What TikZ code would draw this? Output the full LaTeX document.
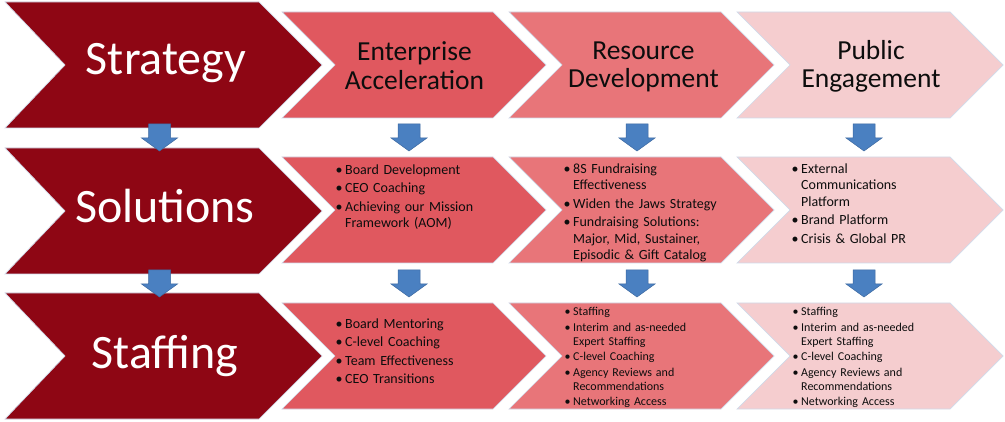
\documentclass[tikz,border=0pt]{standalone}
\usepackage{fontspec}
\setmainfont{Carlito}
\definecolor{dred}{RGB}{142,6,20}
\definecolor{cEA}{RGB}{224,88,95}
\definecolor{cRD}{RGB}{232,117,121}
\definecolor{cPE}{RGB}{245,205,207}
\definecolor{edge}{RGB}{208,218,234}
\definecolor{abl}{RGB}{74,128,193}
\definecolor{abd}{RGB}{60,104,160}
\newcommand\itm{\leavevmode\llap{\textbullet\hspace{2.5pt}}}
\newcommand\chevpath[6]{% x, top, w, h, notch depth, color
  \fill[#6, draw=edge, line width=0.7pt]
    (#1,#2) -- ({#1+#3},#2) -- ({#1+#3+#4/2},{#2+#4/2}) -- ({#1+#3},{#2+#4})
    -- (#1,{#2+#4}) -- ({#1+#5},{#2+#4/2}) -- cycle;}
\newcommand\dnarrow[2]{% center x, top y
  \fill[abl, draw=abd, line width=0.5pt]
    ({#1-11},#2) -- ({#1+11},#2) -- ({#1+11},{#2+14}) -- ({#1+18},{#2+14})
    -- (#1,{#2+27}) -- ({#1-18},{#2+14}) -- ({#1-11},{#2+14}) -- cycle;}
\tikzset{
  big/.style={font=\fontsize{48}{50}\selectfont, text=white, anchor=base, inner sep=0pt},
  hdr/.style={font=\fontsize{27.5}{28.5}\selectfont, text=black!95, anchor=base,
    text width=220pt, align=center, inner sep=0pt},
  lst/.style={font=\fontsize{14}{16.5}\selectfont, text=black!95, anchor=base west,
    text width=200pt, align=left, inner sep=0pt},
  lsts/.style={font=\fontsize{12}{14}\selectfont, text=black!95, anchor=base west,
    text width=200pt, align=left, inner sep=0pt},
}
\begin{document}
\begin{tikzpicture}[x=1pt,y=-1pt]
\useasboundingbox (0,0) rectangle (1005,422);
% left big chevrons
\chevpath{5}{2}{254}{126}{60}{dred}
\chevpath{5}{148}{254}{126}{60}{dred}
\chevpath{5}{293}{254}{126}{60}{dred}
% small chevrons
\foreach \t in {12,157,303}{
  \chevpath{282}{\t}{211}{106}{53}{cEA}
  \chevpath{509}{\t}{212}{106}{53}{cRD}
  \chevpath{737}{\t}{213}{106}{53}{cPE}
}
% arrows
\foreach \t in {124,270}{
  \dnarrow{159.5}{\t}
  \dnarrow{409}{\t}
  \dnarrow{637}{\t}
  \dnarrow{864}{\t}
}
% big labels
\node[big] (strat) at (166,75) {Strategy};
\node[big] (sol) at (165,223) {Solutions};
\node[big] (staff) at (165,369) {Staffing};
% headers
\node[hdr] (hEA) at (414.5,61) {Enterprise\\Acceleration};
\node[hdr] (hRD) at (643.5,59.5) {Resource\\Development};
\node[hdr] (hPE) at (871,59.5) {Public\\Engagement};
% row 2
\node[lst] (sEA) at (345,174.5) {\itm Board Development\par\vspace{2pt}\itm CEO Coaching\par\vspace{2pt}\itm Achieving our Mission\\Framework (AOM)};
\node[lst] (sRD) at (573,173.5) {\itm 8S Fundraising\\Effectiveness\par\vspace{2pt}\itm Widen the Jaws Strategy\par\vspace{2pt}\itm Fundraising Solutions:\\Major, Mid, Sustainer,\\Episodic \& Gift Catalog};
\node[lst] (sPE) at (801,173.5) {\itm External\\Communications\\Platform\par\vspace{2pt}\itm Brand Platform\par\vspace{2pt}\itm Crisis \& Global PR};
% row 3
\node[lst] (tEA) at (345,328.5) {\itm Board Mentoring\par\vspace{2pt}\itm C-level Coaching\par\vspace{2pt}\itm Team Effectiveness\par\vspace{2pt}\itm CEO Transitions};
\node[lsts] (tRD) at (573,316) {\itm Staffing\par\vspace{1.5pt}\itm Interim and as-needed\\Expert Staffing\par\vspace{1.5pt}\itm C-level Coaching\par\vspace{1.5pt}\itm Agency Reviews and\\Recommendations\par\vspace{1.5pt}\itm Networking Access};
\node[lsts] (tPE) at (801,316) {\itm Staffing\par\vspace{1.5pt}\itm Interim and as-needed\\Expert Staffing\par\vspace{1.5pt}\itm C-level Coaching\par\vspace{1.5pt}\itm Agency Reviews and\\Recommendations\par\vspace{1.5pt}\itm Networking Access};
\end{tikzpicture}
\end{document}
